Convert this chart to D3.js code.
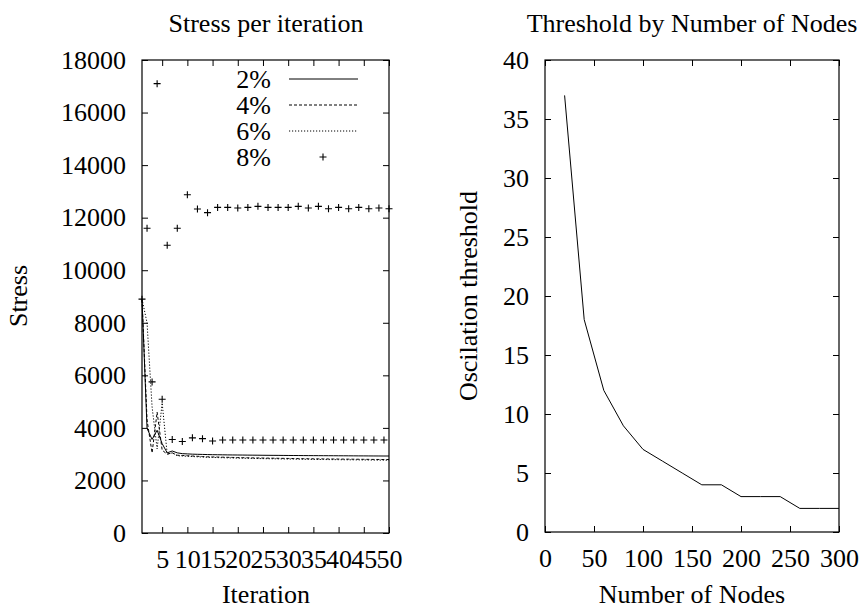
<!DOCTYPE html>
<html>
<head>
<meta charset="utf-8">
<script src="https://cdn.jsdelivr.net/npm/d3@7"></script>
<style>
  body { margin: 0; background: #fff; }
</style>
</head>
<body>
<div id="chart"></div>
<script>
// ---- data ----
const iterations = [1,2,3,4,5,6,7,8,9,10,11,12,13,14,15,16,17,18,19,20,21,22,23,24,25,
  26,27,28,29,30,31,32,33,34,35,36,37,38,39,40,41,42,43,44,45,46,47,48,49,50];

const stress2 = [8900,3980,3560,3910,3400,3050,3120,3050,3020,3010,3000,2995,2990,2985,2980,
  2978,2975,2972,2970,2968,2966,2964,2962,2960,2958,2956,2955,2954,2952,2950,2949,2948,2946,
  2945,2944,2943,2942,2941,2940,2939,2938,2937,2936,2935,2934,2933,2932,2931,2930,2930];
const stress4 = [8900,4300,3050,4600,3150,3000,3050,2960,2950,2940,2930,2920,2910,2900,2895,
  2890,2885,2880,2875,2870,2866,2862,2858,2855,2852,2849,2846,2843,2840,2837,2834,2831,2828,
  2826,2824,2822,2820,2818,2816,2814,2812,2810,2808,2806,2804,2802,2800,2798,2796,2795];
const stress6 = [8900,8000,4800,3200,4950,3000,3050,2940,2930,2920,2910,2900,2890,2880,2875,
  2870,2865,2860,2855,2850,2846,2842,2838,2834,2830,2827,2824,2821,2818,2815,2812,2809,2806,
  2803,2800,2798,2796,2794,2792,2790,2788,2786,2784,2782,2780,2778,2776,2774,2772,2770];
const stress8 = [8900,11600,5750,17100,5090,10950,3560,11600,3480,12870,3620,12330,3590,12190,
  3500,12390,3540,12390,3540,12370,3540,12390,3540,12430,3540,12390,3540,12390,3540,12390,
  3540,12430,3540,12370,3540,12430,3540,12340,3540,12390,3540,12340,3540,12390,3540,12340,
  3540,12370,3540,12340];

const seriesNames = ["2%", "4%", "6%", "8%"];

const stressTicksX = [5,10,15,20,25,30,35,40,45,50];
const stressTicksY = [0,2000,4000,6000,8000,10000,12000,14000,16000,18000];

const nodes = [20,40,60,80,100,120,140,160,180,200,220,240,260,280,300];
const threshold = [37,18,12,9,7,6,5,4,4,3,3,3,2,2,2];
const nodeTicksX = [0,50,100,150,200,250,300];
const nodeTicksY = [0,5,10,15,20,25,30,35,40];

// ---- layout ----
const width = 861, height = 608;
const font = "'Liberation Serif', 'Times New Roman', serif";
const fontSize = "26px";
const tick = 6;

const svg = d3.select("#chart")
    .append("svg")
    .attr("width", width)
    .attr("height", height)
    .attr("font-family", font);

function styleText(sel) {
    return sel.attr("font-family", font)
        .style("font-family", font)
        .style("font-size", fontSize)
        .attr("fill", "#000");
}

// draws a gnuplot-like framed box with inward, mirrored ticks
function drawFrame(g, x, y, xTicks, yTicks) {
    const [x0, x1] = x.range();
    const [y1, y0] = y.range();

    g.append("g")
        .attr("transform", `translate(0, ${y1})`)
        .call(d3.axisBottom(x).tickValues(xTicks).tickFormat(d3.format("d"))
            .tickSizeInner(-tick).tickSizeOuter(0).tickPadding(17))
        .call(a => a.select(".domain").remove())
        .call(a => a.attr("font-family", font))
        .selectAll("text").call(styleText);

    g.append("g")
        .attr("transform", `translate(0, ${y0})`)
        .call(d3.axisTop(x).tickValues(xTicks).tickSizeInner(-tick).tickSizeOuter(0).tickFormat(""))
        .call(a => a.select(".domain").remove());

    g.append("g")
        .attr("transform", `translate(${x0}, 0)`)
        .call(d3.axisLeft(y).tickValues(yTicks).tickFormat(d3.format("d"))
            .tickSizeInner(-tick).tickSizeOuter(0).tickPadding(16))
        .call(a => a.select(".domain").remove())
        .call(a => a.attr("font-family", font))
        .selectAll("text").call(styleText);

    g.append("g")
        .attr("transform", `translate(${x1}, 0)`)
        .call(d3.axisRight(y).tickValues(yTicks).tickSizeInner(-tick).tickSizeOuter(0).tickFormat(""))
        .call(a => a.select(".domain").remove());

    g.selectAll(".tick line").attr("stroke", "#000");

    g.append("rect")
        .attr("x", x0).attr("y", y0)
        .attr("width", x1 - x0).attr("height", y1 - y0)
        .attr("fill", "none")
        .attr("stroke", "#000")
        .attr("stroke-width", 1.2);
}

function plus(sel, size) {
    return sel.append("path")
        .attr("d", `M${-size},0H${size}M0,${-size}V${size}`)
        .attr("stroke", "#000")
        .attr("stroke-width", 1.1)
        .attr("fill", "none");
}

// ---- left: stress per iteration ----
const left = svg.append("g");
const xS = d3.scaleLinear().domain([1, 50]).range([142, 389]);
const yS = d3.scaleLinear().domain([0, 18000]).range([533, 60]);

drawFrame(left, xS, yS, stressTicksX, stressTicksY);

const lineS = d3.line()
    .x((d, i) => xS(iterations[i]))
    .y(d => yS(d));

const lineSeries = [
    { name: seriesNames[0], values: stress2, dash: null },
    { name: seriesNames[1], values: stress4, dash: "3,2" },
    { name: seriesNames[2], values: stress6, dash: "1.2,1.8" }
];

lineSeries.forEach(s => {
    left.append("path")
        .datum(s.values)
        .attr("d", lineS)
        .attr("fill", "none")
        .attr("stroke", "#000")
        .attr("stroke-width", 1)
        .attr("stroke-dasharray", s.dash);
});

left.selectAll(".pt8")
    .data(stress8)
    .enter()
    .append("g")
    .attr("class", "pt8")
    .attr("transform", (d, i) => `translate(${xS(iterations[i])}, ${yS(d)})`)
    .each(function () { plus(d3.select(this), 3.5); });

// legend
const legend = left.append("g");
const legendRows = [79, 105, 131, 157];
seriesNames.forEach((name, i) => {
    legend.append("text")
        .attr("x", 271)
        .attr("y", legendRows[i] + 9)
        .attr("text-anchor", "end")
        .call(styleText)
        .text(name);
    if (i < 3) {
        legend.append("line")
            .attr("x1", 289).attr("x2", 358)
            .attr("y1", legendRows[i]).attr("y2", legendRows[i])
            .attr("stroke", "#000")
            .attr("stroke-width", 1)
            .attr("stroke-dasharray", lineSeries[i].dash);
    } else {
        const m = legend.append("g").attr("transform", `translate(323, ${legendRows[i]})`);
        plus(m, 3.5);
    }
});

left.append("text")
    .attr("x", 266).attr("y", 32)
    .attr("text-anchor", "middle")
    .call(styleText)
    .text("Stress per iteration");

left.append("text")
    .attr("x", 266).attr("y", 603)
    .attr("text-anchor", "middle")
    .call(styleText)
    .text("Iteration");

left.append("text")
    .attr("transform", "translate(27, 296) rotate(-90)")
    .attr("text-anchor", "middle")
    .call(styleText)
    .text("Stress");

// ---- right: threshold by number of nodes ----
const right = svg.append("g");
const xN = d3.scaleLinear().domain([0, 300]).range([545, 839]);
const yN = d3.scaleLinear().domain([0, 40]).range([532, 60]);

drawFrame(right, xN, yN, nodeTicksX, nodeTicksY);

right.append("path")
    .datum(threshold)
    .attr("d", d3.line().x((d, i) => xN(nodes[i])).y(d => yN(d)))
    .attr("fill", "none")
    .attr("stroke", "#000")
    .attr("stroke-width", 1);

right.append("text")
    .attr("x", 692).attr("y", 32)
    .attr("text-anchor", "middle")
    .call(styleText)
    .text("Threshold by Number of Nodes");

right.append("text")
    .attr("x", 692).attr("y", 603)
    .attr("text-anchor", "middle")
    .call(styleText)
    .text("Number of Nodes");

right.append("text")
    .attr("transform", "translate(477, 296) rotate(-90)")
    .attr("text-anchor", "middle")
    .call(styleText)
    .text("Oscilation threshold");
</script>
</body>
</html>
